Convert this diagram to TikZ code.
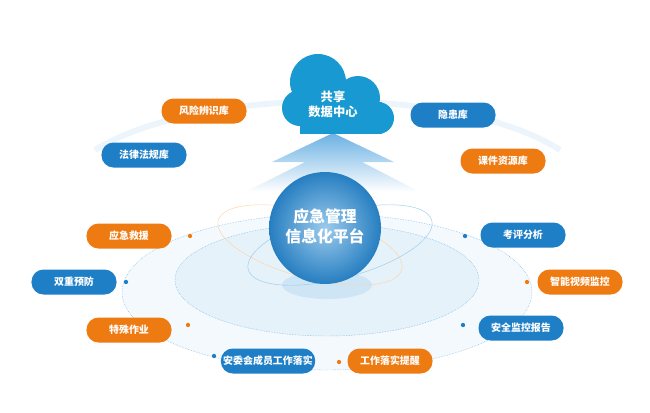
\documentclass[tikz,border=0pt]{standalone}
\usepackage{fontspec}
\setmainfont{Noto Sans CJK SC}
\usetikzlibrary{positioning, shapes.geometric}
\definecolor{pillblue}{HTML}{1E7FC6}
\definecolor{pillorange}{HTML}{EE7A12}
\definecolor{ringblue}{HTML}{5AA8E0}
\definecolor{spherebl}{HTML}{2A8CD6}

\begin{document}
\begin{tikzpicture}[
    x=0.03cm, y=-0.03cm,
    pill/.style={rectangle, rounded corners=0.36cm, minimum width=2.55cm, minimum height=0.75cm, text=white, font=\bfseries\fontsize{8.5}{10}\selectfont, inner sep=2pt},
    bpill/.style={pill, fill=pillblue},
    opill/.style={pill, fill=pillorange},
    ring/.style={draw=ringblue, densely dotted, thin},
    bdot/.style={circle, fill=pillblue, inner sep=1.3pt},
    odot/.style={circle, fill=pillorange, inner sep=1.3pt}
]
\useasboundingbox (0,0) rectangle (650,412);

% Rings
\fill[ringblue!7] (327,292) ellipse [x radius=205, y radius=78];
\draw[ring] (327,292) ellipse [x radius=205, y radius=78];
\fill[ringblue!15] (327,280) ellipse [x radius=152, y radius=56];
\draw[ring] (327,280) ellipse [x radius=152, y radius=56];
\draw[ringblue!12, line width=5pt] (95,150) .. controls (200,85) and (460,85) .. (560,150);
\fill[ringblue!30] (327,285) ellipse [x radius=45, y radius=14];

% Orbits
\draw[orange!35, thin, rotate around={-15:(310,245)}] (310,245) ellipse [x radius=95, y radius=33];
\draw[ringblue!60, thin, rotate around={15:(340,245)}] (340,245) ellipse [x radius=95, y radius=33];

% Upward arrow
\shade[top color=ringblue!90, bottom color=white]
  (333,133) -- (272,162) -- (305,162) -- (245,192) -- (420,192) -- (362,162) -- (394,162) -- cycle;

% Platform sphere
\shade[inner color=ringblue!60!white, outer color=spherebl!90!black] (325,228) circle [radius=56];
\node[text=white, font=\bfseries\fontsize{13.5}{17}\selectfont, align=center] (platform) at (325,226) {应急管理\\信息化平台};

% Cloud
\begin{scope}[fill=pillblue!80!cyan]
\fill (318,82) circle [radius=28];
\fill (358,98) circle [radius=22];
\fill (300,108) circle [radius=18];
\fill (378,118) circle [radius=16];
\fill (300,102) rectangle (382,134);
\end{scope}
\node[text=white, font=\bfseries\fontsize{10.5}{13}\selectfont, align=center] (cloud) at (333,104) {共享\\数据中心};

% Library pills
\node[opill] (risk) at (204,111) {风险辨识库};
\node[bpill] (law) at (144,155) {法律法规库};
\node[bpill] (hazard) at (453,115) {隐患库};
\node[opill] (course) at (503,161) {课件资源库};

% Function pills
\node[opill] (rescue) at (129,236) {应急救援};
\node[bpill] (prevent) at (74,282) {双重预防};
\node[opill] (special) at (129,330) {特殊作业};
\node[bpill] (member) at (268,361) {安委会成员工作落实};
\node[opill] (remind) at (390,361) {工作落实提醒};
\node[bpill] (assess) at (523,235) {考评分析};
\node[opill] (video) at (580,282) {智能视频监控};
\node[bpill] (report) at (521,328) {安全监控报告};

% Dots
\node[odot] (d1) at (190,236) {};
\node[bdot] (d2) at (126,282) {};
\node[odot] (d3) at (188,325) {};
\node[bdot] (d4) at (214,356) {};
\node[odot] (d5) at (339,362) {};
\node[bdot] (d6) at (465,236) {};
\node[odot] (d7) at (527,282) {};
\node[bdot] (d8) at (463,325) {};

\end{tikzpicture}
\end{document}
